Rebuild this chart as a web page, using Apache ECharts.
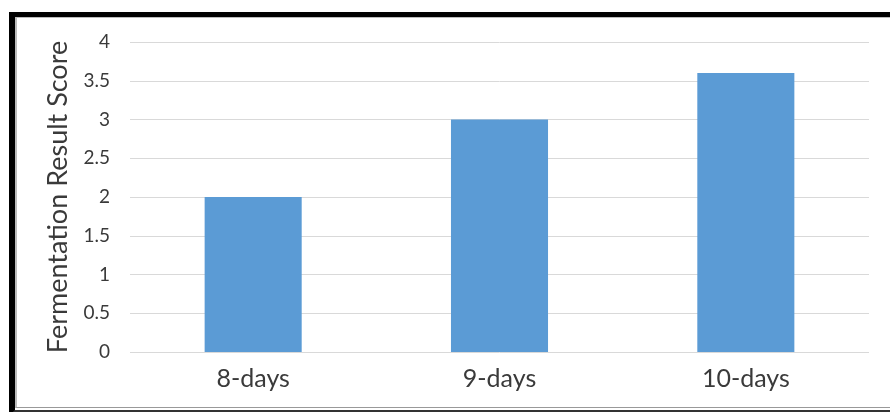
<!DOCTYPE html>
<html>
<head>
<meta charset="utf-8">
<script src="https://cdn.jsdelivr.net/npm/echarts@6/dist/echarts.min.js"></script>
<style>
html,body{margin:0;padding:0;background:#fff;}
#frame{position:absolute;left:9px;top:12px;width:900px;height:393px;border-top:5px solid #000;border-left:6px solid #000;border-bottom:5px solid #333;box-sizing:content-box;}
#inner{position:absolute;left:15px;top:17px;width:900px;height:389px;border-top:1px solid #bbb;border-left:2px solid #bbb;border-bottom:1px solid #999;}
#main{position:absolute;left:0;top:0;width:890px;height:412px;}
</style>
</head>
<body>
<div id="frame"></div>
<div id="inner"></div>
<div id="main"></div>
<script>
const categories = ['8-days', '9-days', '10-days'];
const scores = [2.0, 3.0, 3.6];
const yTicks = { min: 0, max: 4, interval: 0.5 };
const yName = 'Fermentation Result Score';

const chart = echarts.init(document.getElementById('main'), null, {renderer: 'canvas'});
chart.setOption({
  backgroundColor: 'transparent',
  animation: false,
  grid: { left: 130, right: 21, top: 42, bottom: 60 },
  xAxis: {
    type: 'category',
    data: categories,
    axisLine: { show: false },
    axisTick: { show: false },
    axisLabel: { color: '#3a3a3a', fontSize: 25, fontFamily: 'Lato', margin: 14 }
  },
  yAxis: {
    type: 'value',
    min: yTicks.min, max: yTicks.max, interval: yTicks.interval,
    name: yName,
    nameLocation: 'middle',
    nameGap: 58,
    nameTextStyle: { color: '#3a3a3a', fontSize: 27, fontFamily: 'Lato' },
    axisLine: { show: false },
    axisTick: { show: false },
    splitLine: { lineStyle: { color: '#d9d9d9', width: 1 } },
    axisLabel: { color: '#3a3a3a', fontSize: 19, fontFamily: 'Lato', margin: 20 }
  },
  series: [{
    type: 'bar',
    data: scores,
    barWidth: '39.4%',
    itemStyle: { color: '#5b9bd5' }
  }]
});
</script>
</body>
</html>
